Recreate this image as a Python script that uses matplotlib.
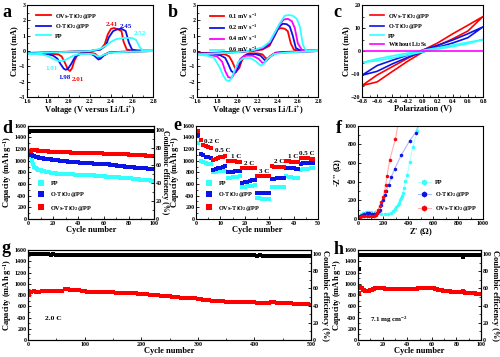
import numpy as np
import matplotlib
matplotlib.use("Agg")
import matplotlib.pyplot as plt
from matplotlib.ticker import MultipleLocator, AutoMinorLocator

plt.rcParams['font.family'] = ['Liberation Serif', 'DejaVu Serif']
plt.rcParams['font.weight'] = 'bold'
plt.rcParams['mathtext.fontset'] = 'custom'
plt.rcParams['mathtext.rm'] = 'Liberation Serif:bold'
plt.rcParams['mathtext.bf'] = 'Liberation Serif:bold'
plt.rcParams['mathtext.it'] = 'Liberation Serif:bold'
plt.rcParams['mathtext.default'] = 'rm'

RED = '#ff0000'
BLUE = '#0a14e6'
CYAN = '#33ffff'
MAG = '#ff00ff'

# ---------------- panel a data ----------------
a_labels = ['OVs-TiO$_2$@PP', 'O-TiO$_2$@PP', 'PP']
a_red_lower_V = [2.8, 2.6, 2.45, 2.38, 2.33, 2.3, 2.28, 2.25, 2.2, 2.12, 2.08, 2.05, 2.03, 2.01, 1.99, 1.96, 1.93, 1.9, 1.8, 1.7, 1.6]
a_red_lower_I = [0.0, -0.03, -0.06, -0.1, -0.25, -0.42, -0.38, -0.18, -0.1, -0.12, -0.25, -0.65, -1.1, -1.3, -1.2, -0.75, -0.35, -0.22, -0.16, -0.14, -0.12]
a_red_upper_V = [1.6, 1.8, 2.0, 2.2, 2.3, 2.34, 2.37, 2.4, 2.43, 2.47, 2.5, 2.52, 2.55, 2.6, 2.8]
a_red_upper_I = [-0.12, -0.08, -0.04, 0.0, 0.1, 0.45, 1.1, 1.45, 1.5, 1.4, 1.3, 0.6, 0.1, 0.04, 0.02]
a_blue_lower_V = [2.8, 2.6, 2.45, 2.38, 2.33, 2.3, 2.28, 2.24, 2.2, 2.12, 2.06, 2.02, 1.99, 1.97, 1.95, 1.92, 1.89, 1.85, 1.8, 1.7, 1.6]
a_blue_lower_I = [0.0, -0.03, -0.06, -0.1, -0.3, -0.5, -0.55, -0.3, -0.15, -0.15, -0.35, -0.85, -1.15, -1.22, -1.15, -0.85, -0.5, -0.3, -0.2, -0.16, -0.14]
a_blue_upper_V = [1.6, 1.8, 2.0, 2.2, 2.3, 2.35, 2.38, 2.42, 2.46, 2.5, 2.54, 2.57, 2.6, 2.65, 2.8]
a_blue_upper_I = [-0.14, -0.1, -0.05, 0.0, 0.1, 0.35, 0.9, 1.3, 1.42, 1.45, 1.3, 0.55, 0.1, 0.03, 0.02]
a_cyan_lower_V = [2.8, 2.6, 2.45, 2.38, 2.33, 2.3, 2.27, 2.24, 2.2, 2.1, 2.04, 2.0, 1.96, 1.91, 1.86, 1.82, 1.78, 1.7, 1.6]
a_cyan_lower_I = [0.0, -0.04, -0.08, -0.12, -0.25, -0.35, -0.33, -0.22, -0.18, -0.2, -0.3, -0.45, -0.6, -0.65, -0.55, -0.4, -0.28, -0.2, -0.16]
a_cyan_upper_V = [1.6, 1.8, 2.0, 2.2, 2.3, 2.35, 2.4, 2.45, 2.52, 2.6, 2.64, 2.67, 2.7, 2.8]
a_cyan_upper_I = [-0.16, -0.1, -0.05, 0.0, 0.15, 0.35, 0.6, 0.78, 0.85, 0.85, 0.72, 0.3, 0.05, 0.02]
a_peak_text = ['2.41', '2.45', '2.52', '1.91', '1.98', '2.01']
a_peak_V = [2.41, 2.545, 2.675, 1.83, 1.96, 2.08]
a_peak_I = [1.76, 1.58, 1.15, -1.15, -1.73, -1.84]

# ---------------- panel b data ----------------
b_labels = ['0.1 mV s$^{-1}$', '0.2 mV s$^{-1}$', '0.4 mV s$^{-1}$', '0.6 mV s$^{-1}$']
b_red_lower_V = [2.8, 2.6, 2.45, 2.38, 2.33, 2.3, 2.28, 2.25, 2.2, 2.12, 2.07, 2.04, 2.02, 2.0, 1.98, 1.95, 1.92, 1.88, 1.8, 1.7, 1.6]
b_red_lower_I = [0.0, -0.03, -0.06, -0.1, -0.3, -0.5, -0.45, -0.22, -0.15, -0.15, -0.3, -0.7, -1.1, -1.25, -1.15, -0.7, -0.35, -0.22, -0.17, -0.15, -0.14]
b_red_upper_V = [1.6, 1.8, 2.0, 2.15, 2.25, 2.32, 2.36, 2.4, 2.43, 2.47, 2.5, 2.53, 2.56, 2.6, 2.8]
b_red_upper_I = [-0.14, -0.1, -0.05, 0.0, 0.1, 0.35, 0.9, 1.4, 1.5, 1.45, 1.3, 0.5, 0.1, 0.04, 0.02]
b_blue_lower_V = [2.8, 2.6, 2.45, 2.38, 2.33, 2.29, 2.27, 2.23, 2.18, 2.1, 2.05, 2.02, 1.99, 1.97, 1.94, 1.91, 1.88, 1.83, 1.75, 1.6]
b_blue_lower_I = [0.0, -0.04, -0.08, -0.13, -0.35, -0.6, -0.58, -0.3, -0.2, -0.2, -0.4, -0.9, -1.35, -1.45, -1.3, -0.85, -0.45, -0.27, -0.2, -0.17]
b_blue_upper_V = [1.6, 1.8, 2.0, 2.15, 2.25, 2.32, 2.37, 2.41, 2.45, 2.49, 2.52, 2.55, 2.58, 2.62, 2.8]
b_blue_upper_I = [-0.17, -0.12, -0.06, 0.02, 0.15, 0.45, 1.0, 1.55, 1.78, 1.75, 1.6, 1.0, 0.2, 0.05, 0.02]
b_mag_lower_V = [2.8, 2.6, 2.45, 2.37, 2.32, 2.28, 2.25, 2.21, 2.15, 2.08, 2.03, 1.99, 1.96, 1.94, 1.91, 1.88, 1.85, 1.8, 1.72, 1.6]
b_mag_lower_I = [0.0, -0.05, -0.1, -0.15, -0.4, -0.7, -0.78, -0.5, -0.3, -0.3, -0.5, -1.1, -1.6, -1.75, -1.7, -1.3, -0.7, -0.35, -0.25, -0.2]
b_mag_upper_V = [1.6, 1.8, 2.0, 2.15, 2.25, 2.32, 2.37, 2.42, 2.46, 2.5, 2.54, 2.57, 2.6, 2.64, 2.8]
b_mag_upper_I = [-0.2, -0.14, -0.07, 0.03, 0.2, 0.55, 1.15, 1.75, 2.05, 2.1, 1.95, 1.5, 0.5, 0.08, 0.02]
b_cyan_lower_V = [2.8, 2.6, 2.45, 2.36, 2.3, 2.26, 2.23, 2.19, 2.13, 2.06, 2.01, 1.97, 1.94, 1.92, 1.89, 1.86, 1.82, 1.77, 1.7, 1.6]
b_cyan_lower_I = [0.0, -0.06, -0.12, -0.2, -0.5, -0.85, -0.95, -0.7, -0.45, -0.45, -0.7, -1.3, -1.8, -1.95, -1.9, -1.6, -1.0, -0.45, -0.3, -0.22]
b_cyan_upper_V = [1.6, 1.8, 2.0, 2.15, 2.25, 2.32, 2.37, 2.42, 2.47, 2.51, 2.55, 2.59, 2.62, 2.65, 2.68, 2.8]
b_cyan_upper_I = [-0.22, -0.15, -0.08, 0.05, 0.25, 0.6, 1.2, 1.8, 2.3, 2.35, 2.3, 2.1, 1.6, 0.4, 0.05, 0.02]

# ---------------- panel c data ----------------
c_labels = ['OVs-TiO$_2$@PP', 'O-TiO$_2$@PP', 'PP', 'Without Li$_2$S$_6$']
c_V = [-0.8, -0.6, -0.4, -0.2, 0.0, 0.2, 0.4, 0.6, 0.8]
c_red_up = [-15, -10.4, -6.8, -3.2, 0.3, 3.5, 7.5, 11.2, 15]
c_red_lo = [-15, -13.4, -8.9, -4.5, -0.5, 2.3, 5.3, 8.7, 15]
c_blue_up = [-10.5, -6.3, -4.0, -1.8, 0.4, 2.5, 4.8, 7.5, 10.5]
c_blue_lo = [-10.5, -8.8, -5.6, -2.8, -0.4, 1.6, 3.5, 5.8, 10.5]
c_cyan_up = [-5, -3.4, -2.1, -0.9, 0.3, 1.4, 2.6, 3.8, 5]
c_cyan_lo = [-5, -4.2, -3.0, -1.7, -0.4, 0.8, 2.0, 3.2, 5]
c_mag = [0, 0, 0, 0, 0, 0, 0, 0, 0]

# ---------------- panel d data ----------------
d_labels = ['PP', 'O-TiO$_2$@PP', 'OVs-TiO$_2$@PP']
d_cycles = list(range(1, 101))
d_pp = [1180, 1060, 990, 935, 895, 870, 858, 848, 840, 832,
        826, 820, 815, 810, 806, 802, 798, 794, 790, 786,
        784, 781, 779, 777, 775, 773, 772, 771, 770, 769,
        768, 767, 766, 765, 764, 763, 762, 761, 760, 759,
        758, 757, 756, 755, 754, 753, 752, 751, 750, 749,
        748, 746, 745, 743, 742, 740, 738, 736, 734, 732,
        730, 728, 727, 726, 724, 722, 720, 718, 716, 714,
        713, 712, 711, 710, 709, 708, 707, 706, 705, 703,
        700, 697, 694, 691, 688, 685, 682, 679, 676, 674,
        672, 670, 668, 666, 664, 662, 660, 659, 658, 657]
d_o = [1120, 1100, 1090, 1082, 1075, 1068, 1062, 1057, 1052, 1047,
       1043, 1040, 1037, 1034, 1031, 1028, 1025, 1022, 1020, 1017,
       1014, 1011, 1008, 1006, 1003, 1000, 997, 995, 992, 989,
       987, 985, 983, 981, 979, 977, 975, 974, 972, 971,
       969, 967, 966, 964, 963, 961, 959, 958, 956, 954,
       953, 952, 951, 950, 949, 948, 947, 946, 945, 943,
       941, 939, 937, 935, 933, 931, 929, 926, 923, 920,
       917, 914, 911, 908, 905, 902, 899, 896, 893, 891,
       889, 887, 885, 884, 882, 881, 879, 877, 876, 874,
       872, 870, 869, 867, 865, 864, 862, 860, 858, 857]
d_ovs = [1170, 1175, 1180, 1182, 1183, 1180, 1178, 1175, 1172, 1170,
         1168, 1167, 1165, 1164, 1162, 1160, 1158, 1156, 1154, 1152,
         1151, 1150, 1150, 1149, 1148, 1147, 1146, 1146, 1145, 1144,
         1143, 1142, 1142, 1141, 1140, 1140, 1139, 1138, 1138, 1137,
         1136, 1136, 1135, 1135, 1134, 1133, 1133, 1132, 1132, 1131,
         1130, 1130, 1129, 1128, 1128, 1127, 1126, 1126, 1125, 1124,
         1123, 1123, 1122, 1121, 1120, 1120, 1119, 1118, 1117, 1116,
         1115, 1114, 1113, 1112, 1111, 1110, 1109, 1108, 1107, 1106,
         1105, 1104, 1103, 1102, 1100, 1099, 1098, 1097, 1096, 1095,
         1094, 1092, 1090, 1089, 1087, 1085, 1083, 1081, 1078, 1075]
d_ce = [97.5, 98.8, 99.0, 99.1, 99.0, 99.2, 99.1, 99.0, 99.1, 99.2,
        99.1, 99.0, 99.1, 99.2, 99.1, 99.0, 99.1, 99.2, 99.1, 99.0,
        99.1, 99.2, 99.1, 99.0, 99.1, 99.2, 99.1, 99.0, 99.1, 99.2,
        99.1, 99.0, 99.1, 99.2, 99.1, 99.0, 99.1, 99.2, 99.1, 99.0,
        99.1, 99.2, 99.1, 99.0, 99.1, 99.2, 99.1, 99.0, 99.1, 99.2,
        99.1, 99.0, 99.1, 99.2, 99.1, 99.0, 99.1, 99.2, 99.1, 99.0,
        99.1, 99.2, 99.1, 99.0, 99.1, 99.2, 99.1, 99.0, 99.1, 99.2,
        99.1, 99.0, 99.1, 99.2, 99.1, 99.0, 99.1, 99.2, 99.1, 99.0,
        99.1, 99.2, 99.1, 99.0, 99.1, 99.2, 99.1, 99.0, 99.1, 99.2,
        99.1, 99.0, 99.1, 99.2, 99.1, 99.0, 99.1, 99.2, 99.1, 99.0]

# ---------------- panel e data ----------------
e_cycles = list(range(1, 49))
e_pp = [1300, 1000, 975, 960, 950, 943,
        806, 812, 818, 822, 826, 829,
        703, 710, 716, 722, 727, 731,
        543, 552, 560, 566, 572, 577,
        352, 350, 349, 348, 347, 346,
        543, 543, 544, 544, 545, 545,
        731, 722, 715, 710, 706, 703,
        846, 850, 856, 862, 868, 874]
e_o = [1446, 1114, 1090, 1070, 1058, 1046,
       846, 858, 870, 882, 893, 903,
       800, 805, 810, 815, 820, 825,
       617, 628, 640, 652, 663, 674,
       440, 442, 444, 446, 448, 450,
       690, 693, 696, 699, 701, 703,
       874, 872, 870, 868, 866, 864,
       950, 955, 958, 960, 962, 964]
e_ovs = [1503, 1360, 1274, 1246, 1230, 1217,
         1020, 1030, 1046, 1058, 1066, 1074,
         989, 989, 988, 987, 986, 985,
         870, 872, 874, 876, 877, 878,
         731, 733, 735, 737, 738, 740,
         903, 900, 897, 894, 890, 887,
         989, 987, 985, 983, 980, 978,
         1046, 1044, 1042, 1040, 1038, 1036]
e_rate_text = ['0.2 C', '0.5 C', '1 C', '2 C', '3 C', '2 C', '1 C', '0.5 C']
e_rate_x = [6.5, 11.0, 16.5, 22.0, 28.0, 34.0, 40.0, 45.5]
e_rate_y = [1330, 1180, 1080, 960, 820, 980, 1070, 1130]

# ---------------- panel f data ----------------
f_pp_x = [5, 13, 25, 40, 60, 80, 105, 133, 160, 187, 215, 240, 262, 280, 295, 307, 318, 328, 338, 347, 355, 360, 368, 379, 395, 413, 440, 475]
f_pp_y = [10, 28, 48, 64, 70, 71, 71, 71, 65, 57, 52, 53, 65, 82, 105, 128, 150, 171, 198, 224, 250, 278, 331, 402, 473, 616, 776, 947]
f_o_x = [5, 15, 30, 50, 70, 90, 110, 130, 150, 165, 173, 187, 200, 213, 227, 245, 267, 293, 347, 413, 460]
f_o_y = [10, 30, 45, 55, 58, 58, 55, 50, 60, 80, 100, 153, 206, 260, 302, 367, 448, 537, 687, 840, 925]
f_ovs_x = [5, 15, 30, 50, 70, 90, 110, 125, 140, 150, 160, 173, 187, 200, 213, 221, 232, 253, 299]
f_ovs_y = [8, 20, 28, 32, 33, 30, 28, 30, 45, 65, 93, 135, 178, 231, 295, 367, 456, 633, 854]
f_fit_end_x = [490, 482, 318]
f_fit_end_y = [1000, 1000, 1000]

# ---------------- panel g data ----------------
g_cycles = [1] + list(range(5, 501, 5))
g_cap = [800, 860, 865, 860, 862, 865, 868, 870, 872, 870, 868, 875, 880, 905, 900, 895, 892, 888, 885, 880, 870,
         862, 855, 850, 855, 852, 850, 848, 846, 845, 845, 843, 842, 840, 840, 838, 836, 835, 830, 825, 818,
         812, 810, 808, 805, 800, 795, 790, 785, 780, 775, 770, 765, 760, 755, 752, 750, 748, 745, 740, 735,
         728, 720, 712, 705, 700, 695, 690, 688, 685, 682, 680, 677, 674, 670, 668, 668, 668, 670, 670, 668,
         665, 662, 658, 655, 655, 670, 668, 665, 662, 660, 657, 654, 650, 647, 644, 640, 637, 635, 632, 630]
g_ce = [99.5, 99.6, 99.5, 99.5, 99.4, 99.5, 99.4, 99.4, 99.3, 99.4, 99.3, 99.3, 99.2, 99.3, 99.2, 99.2, 99.1, 99.2, 99.1, 99.1, 99.0,
        99.1, 99.0, 99.0, 99.0, 98.9, 99.0, 98.9, 98.9, 98.9, 98.9, 98.9, 98.8, 98.9, 98.8, 98.8, 98.8, 98.8, 98.8, 98.7, 98.8,
        98.7, 98.7, 98.7, 98.7, 98.7, 98.6, 98.7, 98.6, 98.6, 98.6, 98.6, 98.6, 98.5, 98.6, 98.5, 98.5, 98.5, 98.5, 98.5, 98.4,
        98.5, 98.4, 98.4, 98.4, 98.4, 98.4, 98.3, 98.4, 98.3, 98.3, 98.3, 98.3, 98.3, 98.2, 98.3, 98.2, 98.2, 98.2, 98.2, 98.2,
        98.1, 98.2, 98.1, 98.1, 98.1, 98.1, 98.1, 98.0, 98.1, 98.0, 98.0, 98.0, 98.0, 98.0, 97.9, 98.0, 97.9, 97.9, 97.9, 97.9]

# ---------------- panel h data ----------------
h_cycles = list(range(1, 101))
h_cap = [830, 945, 920, 895, 885, 880, 878, 878, 880, 885,
         895, 905, 915, 925, 930, 930, 928, 925, 922, 920,
         918, 916, 915, 914, 913, 912, 912, 911, 910, 910,
         910, 909, 909, 908, 908, 908, 909, 910, 910, 911,
         912, 912, 913, 913, 914, 915, 915, 916, 917, 918,
         918, 919, 920, 921, 922, 923, 924, 925, 926, 925,
         922, 918, 912, 905, 898, 892, 886, 882, 878, 875,
         872, 870, 868, 866, 864, 862, 860, 858, 856, 855,
         853, 851, 850, 848, 875, 845, 843, 842, 840, 838,
         836, 834, 832, 830, 828, 826, 824, 822, 820, 818]
h_ce = [82.0, 99.3, 99.2, 99.1, 99.0, 99.0, 99.0, 99.1, 99.0, 99.0,
        99.0, 99.0, 99.1, 99.0, 99.0, 99.0, 99.0, 99.1, 99.0, 99.0,
        99.0, 99.0, 99.0, 99.0, 99.0, 99.0, 99.0, 99.0, 99.0, 98.3,
        99.0, 99.0, 99.0, 99.0, 99.0, 99.0, 99.0, 99.0, 99.0, 99.0,
        99.0, 99.0, 99.0, 99.0, 99.0, 99.0, 99.0, 99.0, 99.0, 99.0,
        99.0, 99.0, 99.0, 99.0, 99.0, 99.0, 99.0, 99.0, 99.0, 99.0,
        99.0, 99.0, 99.0, 99.0, 99.0, 99.0, 99.0, 99.0, 99.0, 99.0,
        99.0, 99.0, 99.0, 99.0, 99.0, 99.0, 99.0, 99.0, 99.0, 99.0,
        99.0, 99.0, 99.0, 99.0, 96.0, 99.0, 99.0, 99.0, 99.0, 99.0,
        99.0, 99.0, 99.0, 99.0, 99.0, 99.0, 99.0, 99.0, 99.0, 99.0]

# ================= drawing =================
TICK = 4.3
LAB = 6.0
LEG = 4.5

fig = plt.figure(figsize=(5.0, 3.57), dpi=100)


def style(ax, xlabel, ylabel, xmaj, ymaj):
    ax.xaxis.set_major_locator(MultipleLocator(xmaj))
    ax.yaxis.set_major_locator(MultipleLocator(ymaj))
    ax.xaxis.set_minor_locator(AutoMinorLocator(2))
    ax.yaxis.set_minor_locator(AutoMinorLocator(2))
    ax.tick_params(which='both', direction='in', labelsize=TICK, pad=1.2)
    ax.tick_params(which='major', length=2, width=0.6)
    ax.tick_params(which='minor', length=1.2, width=0.5)
    for s in ax.spines.values():
        s.set_linewidth(0.8)
    ax.set_xlabel(xlabel, fontsize=LAB, fontweight='bold', labelpad=0.5)
    ax.set_ylabel(ylabel, fontsize=LAB, fontweight='bold', labelpad=0.2)


def right_axis(ax, pad=5, size=LAB):
    ax2 = ax.twinx()
    ax2.set_ylim(0, 104.5)
    ax2.yaxis.set_major_locator(MultipleLocator(20))
    ax2.yaxis.set_minor_locator(AutoMinorLocator(2))
    ax2.tick_params(which='both', direction='in', labelsize=TICK, pad=1.2)
    ax2.tick_params(which='major', length=2, width=0.6)
    ax2.tick_params(which='minor', length=1.2, width=0.5)
    ax2.set_ylabel('Coulombic efficiency (%)', fontsize=size, fontweight='bold',
                   rotation=270, labelpad=pad)
    return ax2


def line_legend(ax, **kw):
    return ax.legend(fontsize=LEG, frameon=False, handlelength=2.3, handletextpad=0.6,
                     labelspacing=0.3, borderaxespad=0.5, **kw)


# ---- a ----
ax = fig.add_axes([0.054, 0.728, 0.252, 0.258])
for lv, li, uv, ui, c, lab in [
        (a_red_lower_V, a_red_lower_I, a_red_upper_V, a_red_upper_I, RED, a_labels[0]),
        (a_blue_lower_V, a_blue_lower_I, a_blue_upper_V, a_blue_upper_I, BLUE, a_labels[1]),
        (a_cyan_lower_V, a_cyan_lower_I, a_cyan_upper_V, a_cyan_upper_I, CYAN, a_labels[2])]:
    ax.plot(lv + uv, li + ui, color=c, lw=1.3, label=lab)
peak_cols = [RED, BLUE, CYAN, CYAN, BLUE, RED]
for t, x, y, c in zip(a_peak_text, a_peak_V, a_peak_I, peak_cols):
    ax.text(x, y, t, color=c, fontsize=5.0, fontweight='bold', ha='center', va='center')
ax.set_xlim(1.6, 2.8)
ax.set_ylim(-3, 3)
style(ax, 'Voltage (V versus Li/Li$^{+}$)', 'Current (mA)', 0.2, 1)
line_legend(ax, loc='upper left', bbox_to_anchor=(0.03, 0.99))

# ---- b ----
ax = fig.add_axes([0.394, 0.728, 0.242, 0.258])
for lv, li, uv, ui, c, lab in [
        (b_red_lower_V, b_red_lower_I, b_red_upper_V, b_red_upper_I, RED, b_labels[0]),
        (b_blue_lower_V, b_blue_lower_I, b_blue_upper_V, b_blue_upper_I, BLUE, b_labels[1]),
        (b_mag_lower_V, b_mag_lower_I, b_mag_upper_V, b_mag_upper_I, MAG, b_labels[2]),
        (b_cyan_lower_V, b_cyan_lower_I, b_cyan_upper_V, b_cyan_upper_I, CYAN, b_labels[3])]:
    ax.plot(lv + uv, li + ui, color=c, lw=1.3, label=lab)
ax.set_xlim(1.6, 2.8)
ax.set_ylim(-3, 3)
style(ax, 'Voltage (V versus Li/Li$^{+}$)', 'Current (mA)', 0.2, 1)
line_legend(ax, loc='upper left', bbox_to_anchor=(0.06, 0.99))

# ---- c ----
ax = fig.add_axes([0.724, 0.728, 0.242, 0.258])
for up, lo, c, lab in [(c_red_up, c_red_lo, RED, c_labels[0]),
                       (c_blue_up, c_blue_lo, BLUE, c_labels[1]),
                       (c_cyan_up, c_cyan_lo, CYAN, c_labels[2])]:
    ax.plot(c_V + c_V[::-1], up + lo[::-1], color=c, lw=1.2, label=lab)
ax.plot(c_V, c_mag, color=MAG, lw=1.2, label=c_labels[3])
ax.set_xlim(-0.8, 0.8)
ax.set_ylim(-20, 20)
style(ax, 'Polarization (V)', 'Current (mA)', 0.2, 10)
line_legend(ax, loc='upper left', bbox_to_anchor=(0.02, 0.99))

# ---- d ----
ax = fig.add_axes([0.056, 0.387, 0.252, 0.2605])
ms = 2.2
ax.plot(d_cycles, d_pp, 's', color=CYAN, ms=ms, mew=0, label=d_labels[0])
ax.plot(d_cycles, d_o, 's', color=BLUE, ms=ms, mew=0, label=d_labels[1])
ax.plot(d_cycles, d_ovs, 's', color=RED, ms=ms, mew=0, label=d_labels[2])
ax.set_xlim(0, 100)
ax.set_ylim(0, 1600)
style(ax, 'Cycle number', 'Capacity (mAh g$^{-1}$)', 20, 200)
ax.legend(fontsize=LEG, frameon=False, loc='lower left', markerscale=2.0,
          handletextpad=0.6, labelspacing=0.7, borderaxespad=0.6)
ax2 = right_axis(ax, pad=3, size=5.6)
ax2.plot(d_cycles, d_ce, 's', color='black', ms=2.6, mew=0)

# ---- e ----
ax = fig.add_axes([0.392, 0.387, 0.244, 0.2605])
ms_e = 3.0
ax.plot(e_cycles, e_pp, 's', color=CYAN, ms=ms_e, mew=0, label=d_labels[0])
ax.plot(e_cycles, e_o, 's', color=BLUE, ms=ms_e, mew=0, label=d_labels[1])
ax.plot(e_cycles, e_ovs, 's', color=RED, ms=ms_e, mew=0, label=d_labels[2])
for t, x, y in zip(e_rate_text, e_rate_x, e_rate_y):
    ax.text(x, y, t, fontsize=5.0, fontweight='bold', ha='center', va='center')
ax.set_xlim(0, 50)
ax.set_ylim(0, 1600)
style(ax, 'Cycle number', 'Capacity (mAh g$^{-1}$)', 10, 200)
ax.legend(fontsize=LEG, frameon=False, loc='lower left', markerscale=1.5,
          handletextpad=0.6, labelspacing=0.7, borderaxespad=0.6)

# ---- f ----
ax = fig.add_axes([0.716, 0.387, 0.25, 0.2605])
for xs, ys, ex, ey, c, lc, lab in [
        (f_pp_x, f_pp_y, f_fit_end_x[0], f_fit_end_y[0], CYAN, '#b3ffff', d_labels[0]),
        (f_o_x, f_o_y, f_fit_end_x[1], f_fit_end_y[1], BLUE, '#b0b8ff', d_labels[1]),
        (f_ovs_x, f_ovs_y, f_fit_end_x[2], f_fit_end_y[2], RED, '#ffb0b0', d_labels[2])]:
    ax.plot(xs + [ex], ys + [ey], '-', color=lc, lw=0.8, zorder=1)
    ax.plot(xs, ys, 'h', color=c, ms=2.8, mew=0, zorder=2)
    ax.plot([], [], '-h', color=lc, mfc=c, mec=c, ms=3.2, lw=0.8, label=lab)
ax.set_xlim(0, 1000)
ax.set_ylim(0, 1000)
style(ax, "Z' ($\\Omega$)", "-Z'' ($\\Omega$)", 200, 200)
ax.legend(fontsize=LEG, frameon=False, loc='lower right', handlelength=2.2,
          handletextpad=0.6, labelspacing=0.8, borderaxespad=0.5)

# ---- g ----
ax = fig.add_axes([0.056, 0.0476, 0.566, 0.252])
ax.plot(g_cycles, g_cap, 's', color=RED, ms=2.2, mew=0)
ax.text(0.06, 0.22, '2.0 C', transform=ax.transAxes, fontsize=5.4, fontweight='bold')
ax.set_xlim(0, 500)
ax.set_ylim(0, 1600)
style(ax, 'Cycle number', 'Capacity (mAh g$^{-1}$)', 100, 200)
ax2 = right_axis(ax)
ax2.plot(g_cycles, g_ce, 's', color='black', ms=2.4, mew=0)

# ---- h ----
ax = fig.add_axes([0.716, 0.0476, 0.246, 0.252])
ax.plot(h_cycles, h_cap, 's', color=RED, ms=2.2, mew=0)
ax.text(0.1, 0.2, '7.1 mg cm$^{-2}$', transform=ax.transAxes, fontsize=5.0, fontweight='bold')
ax.set_xlim(0, 100)
ax.set_ylim(0, 1600)
style(ax, 'Cycle number', 'Capacity (mAh g$^{-1}$)', 20, 200)
ax2 = right_axis(ax)
ax2.plot(h_cycles, h_ce, 's', color='black', ms=2.4, mew=0)

# ---- panel letters ----
for t, x, y in [('a', 0.004, 0.965), ('b', 0.336, 0.965), ('c', 0.666, 0.965),
                ('d', 0.004, 0.64), ('e', 0.347, 0.648), ('f', 0.672, 0.64),
                ('g', 0.004, 0.305), ('h', 0.668, 0.3)]:
    fig.text(x, y, t, fontsize=13, fontweight='bold', va='center', ha='left')

fig.savefig('out.png', dpi=100)
